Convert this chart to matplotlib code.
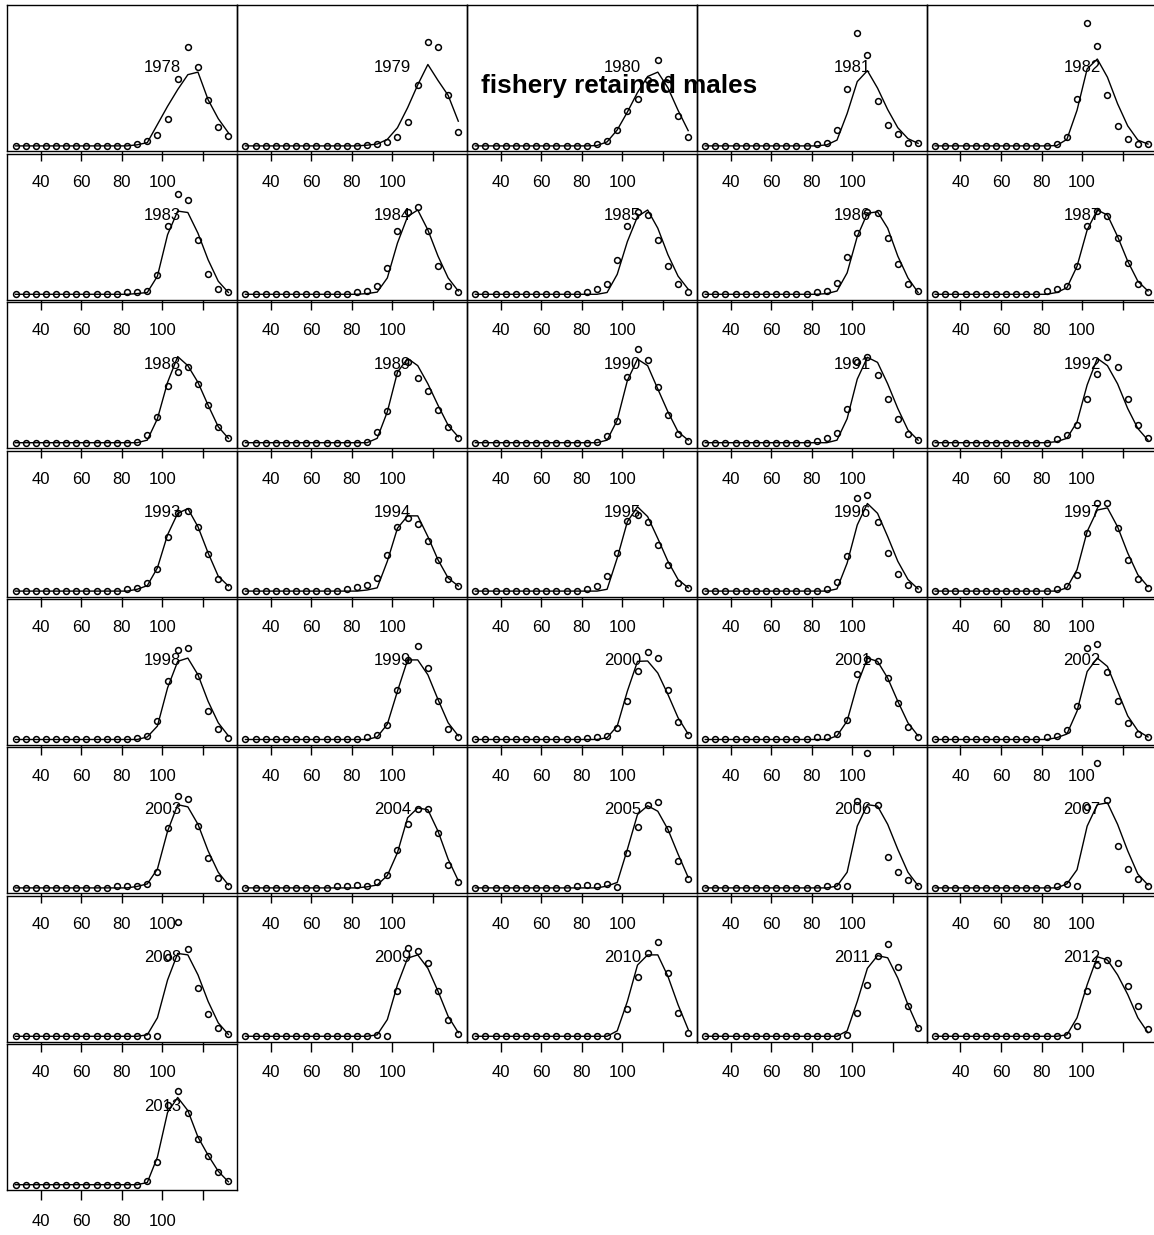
import matplotlib

matplotlib.use("agg")
import matplotlib.pyplot as plt
import matplotlib.transforms as mtransforms

plt.rcParams["font.family"] = ["Liberation Sans", "DejaVu Sans"]

# carapace length bins (mm)
size_bins = [27.5, 32.5, 37.5, 42.5, 47.5, 52.5, 57.5, 62.5, 67.5, 72.5, 77.5,
             82.5, 87.5, 92.5, 97.5, 102.5, 107.5, 112.5, 117.5, 122.5, 127.5, 132.5]

years = [1978, 1979, 1980, 1981, 1982, 1983, 1984, 1985, 1986, 1987, 1988, 1989,
         1990, 1991, 1992, 1993, 1994, 1995, 1996, 1997, 1998, 1999, 2000, 2001,
         2002, 2003, 2004, 2005, 2006, 2007, 2008, 2009, 2010, 2011, 2012, 2013]

# observed size composition (% of retained catch), one row per year
obs_prop = [
    [0, 0, 0, 0, 0, 0, 0, 0, 0, 0, 0, 0, 0.4, 1.3, 3.1, 7.4, 18.3, 27.1, 21.7, 12.6, 5.2, 2.6],
    [0, 0, 0, 0, 0, 0, 0, 0, 0, 0, 0, 0, 0.3, 0.5, 1.1, 2.5, 6.6, 16.7, 28.5, 27.1, 13.9, 3.9],
    [0, 0, 0, 0, 0, 0, 0, 0, 0, 0, 0, 0, 0.4, 1.3, 4.4, 9.6, 13.0, 18.0, 23.5, 18.4, 8.3, 2.5],
    [0, 0, 0, 0, 0, 0, 0, 0, 0, 0, 0, 0.5, 0.7, 4.4, 15.7, 31.0, 25.1, 12.3, 5.7, 3.2, 0.9, 0.9],
    [0, 0, 0, 0, 0, 0, 0, 0, 0, 0, 0, 0, 0.4, 2.4, 13.0, 33.9, 27.5, 13.9, 5.6, 1.8, 0.5, 0.5],
    [0, 0, 0, 0, 0, 0, 0, 0, 0, 0, 0, 0.6, 0.6, 0.9, 5.4, 18.8, 27.7, 25.9, 15.0, 5.7, 1.5, 0.5],
    [0, 0, 0, 0, 0, 0, 0, 0, 0, 0, 0, 0.6, 0.9, 2.3, 7.3, 17.3, 22.7, 23.9, 17.3, 7.9, 2.3, 0.5],
    [0, 0, 0, 0, 0, 0, 0, 0, 0, 0, 0, 0.6, 1.4, 2.9, 9.5, 18.8, 22.7, 21.8, 15.0, 7.9, 2.7, 0.6],
    [0, 0, 0, 0, 0, 0, 0, 0, 0, 0, 0, 0.6, 0.9, 3.2, 10.3, 16.8, 22.7, 22.5, 15.5, 8.2, 2.9, 0.9],
    [0, 0, 0, 0, 0, 0, 0, 0, 0, 0, 0, 0.9, 1.4, 2.3, 7.9, 18.8, 23.0, 21.5, 15.5, 8.5, 2.7, 0.5],
    [0, 0, 0, 0, 0, 0, 0, 0, 0, 0, 0, 0, 0.3, 2.1, 7.1, 15.7, 19.5, 20.7, 16.2, 10.5, 4.4, 1.2],
    [0, 0, 0, 0, 0, 0, 0, 0, 0, 0, 0, 0, 0.3, 3.0, 8.6, 19.2, 22.3, 17.7, 14.1, 8.9, 4.4, 1.2],
    [0, 0, 0, 0, 0, 0, 0, 0, 0, 0, 0, 0, 0.3, 1.9, 5.9, 18.0, 25.7, 22.7, 15.3, 7.5, 2.3, 0.5],
    [0, 0, 0, 0, 0, 0, 0, 0, 0, 0, 0, 0.5, 1.4, 2.7, 9.4, 22.3, 23.5, 18.5, 12.1, 6.5, 2.3, 0.7],
    [0, 0, 0, 0, 0, 0, 0, 0, 0, 0, 0, 0, 0.9, 2.1, 4.8, 12.1, 18.9, 23.7, 20.7, 12.1, 4.8, 1.2],
    [0, 0, 0, 0, 0, 0, 0, 0, 0, 0, 0, 0.6, 0.9, 2.3, 6.1, 15.0, 21.4, 22.1, 17.5, 10.3, 3.4, 1.1],
    [0, 0, 0, 0, 0, 0, 0, 0, 0, 0, 0.6, 1.2, 1.8, 3.6, 10.0, 17.5, 20.0, 18.5, 13.8, 8.6, 3.4, 1.4],
    [0, 0, 0, 0, 0, 0, 0, 0, 0, 0, 0, 0.6, 1.5, 4.1, 10.5, 19.4, 20.9, 18.9, 12.7, 7.3, 2.3, 0.9],
    [0, 0, 0, 0, 0, 0, 0, 0, 0, 0, 0, 0, 0.6, 2.5, 9.7, 25.5, 26.4, 19.1, 10.6, 4.8, 1.8, 0.5],
    [0, 0, 0, 0, 0, 0, 0, 0, 0, 0, 0, 0, 0.6, 1.4, 4.5, 15.9, 24.3, 24.3, 17.3, 8.6, 3.2, 0.9],
    [0, 0, 0, 0, 0, 0, 0, 0, 0, 0, 0, 0, 0.5, 1.0, 5.1, 16.2, 24.6, 25.1, 17.4, 7.8, 2.8, 0.5],
    [0, 0, 0, 0, 0, 0, 0, 0, 0, 0, 0, 0, 0.7, 1.3, 3.9, 13.5, 21.9, 25.8, 19.8, 10.5, 2.8, 0.7],
    [0, 0, 0, 0, 0, 0, 0, 0, 0, 0, 0, 0.5, 0.7, 1.0, 3.3, 10.7, 18.9, 24.0, 22.5, 13.5, 4.8, 1.2],
    [0, 0, 0, 0, 0, 0, 0, 0, 0, 0, 0, 0.7, 0.7, 1.6, 5.3, 18.0, 22.1, 21.5, 16.9, 10.1, 3.5, 0.7],
    [0, 0, 0, 0, 0, 0, 0, 0, 0, 0, 0, 0.7, 1.0, 2.5, 9.2, 25.1, 26.2, 18.6, 10.7, 4.6, 1.6, 0.7],
    [0, 0, 0, 0, 0, 0, 0, 0, 0, 0, 0.5, 0.6, 0.6, 1.1, 4.3, 16.5, 25.2, 24.5, 17.0, 8.1, 2.6, 0.6],
    [0, 0, 0, 0, 0, 0, 0, 0, 0, 0.5, 0.6, 0.8, 0.6, 1.5, 3.5, 10.5, 17.5, 21.8, 21.8, 15.2, 6.3, 1.5],
    [0, 0, 0, 0, 0, 0, 0, 0, 0, 0, 0.5, 0.8, 0.5, 1.1, 0.3, 9.7, 16.8, 22.9, 23.5, 16.3, 7.5, 2.5],
    [0, 0, 0, 0, 0, 0, 0, 0, 0, 0, 0, 0, 0.4, 0.5, 0.5, 24.0, 37.2, 22.7, 8.4, 4.3, 2.2, 0.6],
    [0, 0, 0, 0, 0, 0, 0, 0, 0, 0, 0, 0, 0.4, 1.1, 0.5, 22.3, 34.3, 24.1, 11.5, 5.2, 2.5, 0.6],
    [0, 0, 0, 0, 0, 0, 0, 0, 0, 0, 0, 0, 0, 0, 0, 21.8, 31.5, 24.0, 13.3, 6.2, 2.2, 0.5],
    [0, 0, 0, 0, 0, 0, 0, 0, 0, 0, 0, 0, 0, 0.3, 0, 12.5, 24.2, 23.5, 20.1, 12.4, 4.6, 0.7],
    [0, 0, 0, 0, 0, 0, 0, 0, 0, 0, 0, 0, 0, 0, 0, 7.4, 16.2, 23.0, 26.0, 17.5, 6.5, 1.0],
    [0, 0, 0, 0, 0, 0, 0, 0, 0, 0, 0, 0, 0, 0, 0.4, 6.5, 14.0, 22.1, 25.3, 19.2, 8.3, 2.4],
    [0, 0, 0, 0, 0, 0, 0, 0, 0, 0, 0, 0, 0, 0.4, 2.8, 12.4, 19.6, 21.0, 20.3, 13.9, 8.3, 2.1],
    [0, 0, 0, 0, 0, 0, 0, 0, 0, 0, 0, 0, 0, 0.9, 6.2, 21.9, 25.8, 19.6, 12.6, 7.9, 3.5, 1.0],
]

# model predicted size composition (%), one row per year
pred_prop = [
    [0, 0, 0, 0, 0, 0, 0, 0, 0, 0, 0, 0, 0.3, 0.9, 5.9, 10.9, 15.5, 19.6, 20.3, 12.7, 7.5, 3.6],
    [0, 0, 0, 0, 0, 0, 0, 0, 0, 0, 0, 0, 0.2, 0.5, 1.8, 5.0, 10.5, 16.8, 22.4, 18.0, 13.9, 6.8],
    [0, 0, 0, 0, 0, 0, 0, 0, 0, 0, 0, 0, 0.1, 1.1, 4.4, 9.3, 14.7, 19.1, 20.3, 16.0, 9.8, 4.2],
    [0, 0, 0, 0, 0, 0, 0, 0, 0, 0, 0, 0, 0.3, 1.6, 8.9, 17.7, 20.7, 15.9, 10.0, 5.0, 2.0, 0.7],
    [0, 0, 0, 0, 0, 0, 0, 0, 0, 0, 0, 0, 0.1, 1.8, 9.8, 21.2, 23.9, 18.9, 11.6, 5.5, 1.6, 0.5],
    [0, 0, 0, 0, 0, 0, 0, 0, 0, 0, 0, 0, 0.2, 0.5, 5.0, 16.4, 22.9, 22.5, 16.8, 9.5, 3.6, 0.5],
    [0, 0, 0, 0, 0, 0, 0, 0, 0, 0, 0, 0, 0.2, 0.6, 4.5, 14.1, 21.4, 23.2, 17.7, 10.5, 4.5, 0.9],
    [0, 0, 0, 0, 0, 0, 0, 0, 0, 0, 0, 0, 0, 0.5, 5.5, 14.5, 21.4, 23.2, 18.2, 10.9, 5.0, 1.4],
    [0, 0, 0, 0, 0, 0, 0, 0, 0, 0, 0, 0, 0.2, 0.9, 5.9, 15.9, 22.3, 22.7, 18.2, 10.5, 4.5, 0.5],
    [0, 0, 0, 0, 0, 0, 0, 0, 0, 0, 0, 0, 0.5, 1.8, 7.7, 17.7, 23.2, 21.8, 15.9, 9.1, 3.6, 0.9],
    [0, 0, 0, 0, 0, 0, 0, 0, 0, 0, 0, 0, 0, 0.7, 6.6, 16.6, 23.7, 21.2, 16.6, 10.3, 4.4, 1.2],
    [0, 0, 0, 0, 0, 0, 0, 0, 0, 0, 0, 0, 0, 1.2, 8.5, 19.4, 23.2, 21.2, 16.2, 10.3, 4.8, 1.6],
    [0, 0, 0, 0, 0, 0, 0, 0, 0, 0, 0, 0, 0, 0.7, 6.2, 17.1, 23.0, 21.2, 14.8, 8.5, 3.0, 0.7],
    [0, 0, 0, 0, 0, 0, 0, 0, 0, 0, 0, 0, 0, 0.7, 6.6, 17.5, 23.5, 22.1, 16.2, 9.4, 3.5, 0.7],
    [0, 0, 0, 0, 0, 0, 0, 0, 0, 0, 0, 0, 0.3, 1.2, 5.7, 15.9, 23.2, 21.2, 16.2, 9.4, 3.9, 0.7],
    [0, 0, 0, 0, 0, 0, 0, 0, 0, 0, 0, 0, 0.5, 1.5, 6.4, 15.5, 21.4, 22.7, 17.7, 10.5, 4.1, 1.4],
    [0, 0, 0, 0, 0, 0, 0, 0, 0, 0, 0, 0, 0.3, 0.9, 8.2, 17.3, 20.7, 20.7, 15.0, 8.6, 3.6, 1.4],
    [0, 0, 0, 0, 0, 0, 0, 0, 0, 0, 0, 0, 0, 0.5, 9.1, 19.1, 23.2, 20.5, 14.5, 8.2, 3.2, 0.9],
    [0, 0, 0, 0, 0, 0, 0, 0, 0, 0, 0, 0, 0, 0.6, 7.7, 18.2, 24.1, 21.4, 15.0, 8.2, 3.2, 0.6],
    [0, 0, 0, 0, 0, 0, 0, 0, 0, 0, 0, 0, 0, 0.9, 5.9, 16.4, 22.3, 22.9, 17.7, 10.5, 4.5, 1.2],
    [0, 0, 0, 0, 0, 0, 0, 0, 0, 0, 0, 0, 0, 0.7, 3.7, 14.2, 21.5, 22.4, 17.8, 10.5, 4.6, 1.0],
    [0, 0, 0, 0, 0, 0, 0, 0, 0, 0, 0, 0, 0, 0.7, 4.2, 13.3, 21.9, 21.9, 17.8, 11.0, 4.6, 1.0],
    [0, 0, 0, 0, 0, 0, 0, 0, 0, 0, 0, 0, 0, 0.5, 3.7, 13.3, 21.5, 21.6, 18.3, 12.4, 6.0, 1.5],
    [0, 0, 0, 0, 0, 0, 0, 0, 0, 0, 0, 0, 0, 1.0, 5.1, 15.1, 22.4, 21.5, 16.9, 10.5, 4.6, 1.0],
    [0, 0, 0, 0, 0, 0, 0, 0, 0, 0, 0, 0, 0.5, 1.5, 7.8, 18.7, 22.4, 20.1, 13.3, 6.5, 2.4, 0.7],
    [0, 0, 0, 0, 0, 0, 0, 0, 0, 0, 0, 0, 0.4, 1.1, 5.2, 15.6, 22.9, 22.3, 17.5, 10.2, 4.3, 0.8],
    [0, 0, 0, 0, 0, 0, 0, 0, 0, 0, 0, 0, 0.3, 0.8, 3.4, 9.7, 19.3, 22.0, 21.5, 15.6, 7.9, 2.0],
    [0, 0, 0, 0, 0, 0, 0, 0, 0, 0, 0, 0, 0, 0.5, 1.5, 10.6, 20.2, 22.6, 21.1, 16.1, 9.3, 2.9],
    [0, 0, 0, 0, 0, 0, 0, 0, 0, 0, 0, 0, 0, 0.5, 4.3, 17.0, 22.9, 22.5, 17.5, 10.6, 4.3, 0.6],
    [0, 0, 0, 0, 0, 0, 0, 0, 0, 0, 0, 0, 0, 1.1, 5.0, 17.0, 22.9, 23.4, 17.5, 10.2, 3.8, 0.8],
    [0, 0, 0, 0, 0, 0, 0, 0, 0, 0, 0, 0, 0, 0.4, 5.1, 15.5, 22.8, 22.4, 16.9, 9.6, 3.7, 0.5],
    [0, 0, 0, 0, 0, 0, 0, 0, 0, 0, 0, 0, 0, 0.4, 4.6, 14.2, 21.5, 22.4, 18.7, 12.4, 5.5, 1.0],
    [0, 0, 0, 0, 0, 0, 0, 0, 0, 0, 0, 0, 0, 0, 1.5, 9.6, 19.6, 22.4, 22.4, 16.5, 8.7, 1.9],
    [0, 0, 0, 0, 0, 0, 0, 0, 0, 0, 0, 0, 0, 0, 1.5, 9.6, 18.7, 22.2, 21.6, 16.0, 8.7, 2.4],
    [0, 0, 0, 0, 0, 0, 0, 0, 0, 0, 0, 0, 0, 0.4, 5.1, 14.2, 21.9, 21.0, 16.9, 11.5, 5.1, 1.0],
    [0, 0, 0, 0, 0, 0, 0, 0, 0, 0, 0, 0, 0, 0.6, 7.6, 19.9, 24.0, 20.4, 13.1, 8.1, 3.7, 0.8],
]

x_ticks = [40, 60, 80, 100, 120]
x_tick_labels = ["40", "60", "80", "100", ""]

W, H = 1154, 1235
fig = plt.figure(figsize=(W / 100, H / 100), dpi=100)

# panel grid in pixels (5 columns, panels share their borders)
n_cols = 5
left0, top0 = 7, 5.3
panel_w, panel_h, row_pitch = 229.9, 146, 148.4

# R style 4% padding on both axes, common y scale for all panels
x_span = size_bins[-1] - size_bins[0]
xlim = (size_bins[0] - 0.04 * x_span, size_bins[-1] + 0.04 * x_span)
ymax = max(max(max(r) for r in obs_prop), max(max(r) for r in pred_prop))
ylim = (-0.04 * ymax, 1.04 * ymax)

for i, yr in enumerate(years):
    r, c = divmod(i, n_cols)
    x0 = left0 + c * panel_w
    y_top = top0 + r * row_pitch
    ax = fig.add_axes([x0 / W, 1 - (y_top + panel_h) / H, panel_w / W, panel_h / H])
    ax.set_facecolor("none")

    ax.plot(size_bins, pred_prop[i], color="black", lw=1.0)
    ax.plot(size_bins, obs_prop[i], "o", mfc="none", mec="black", ms=4.2, mew=1.1,
            clip_on=False)

    ax.set_xlim(xlim)
    ax.set_ylim(ylim)
    ax.set_yticks([])
    ax.set_xticks(x_ticks)
    ax.set_xticklabels(x_tick_labels)
    ax.tick_params(axis="x", direction="out", length=7.5, width=1.0, pad=9.5,
                   labelsize=12)
    for s in ax.spines.values():
        s.set_linewidth(1.0)

    trans = mtransforms.blended_transform_factory(ax.transData, ax.transAxes)
    ax.text(100, 0.575, str(yr), transform=trans, ha="center", va="center",
            fontsize=12)

fig.text(619 / W, 1 - 86 / H, "fishery retained males", ha="center", va="center",
         fontsize=18.8, fontweight="bold")

fig.savefig("out.png", dpi=100)
